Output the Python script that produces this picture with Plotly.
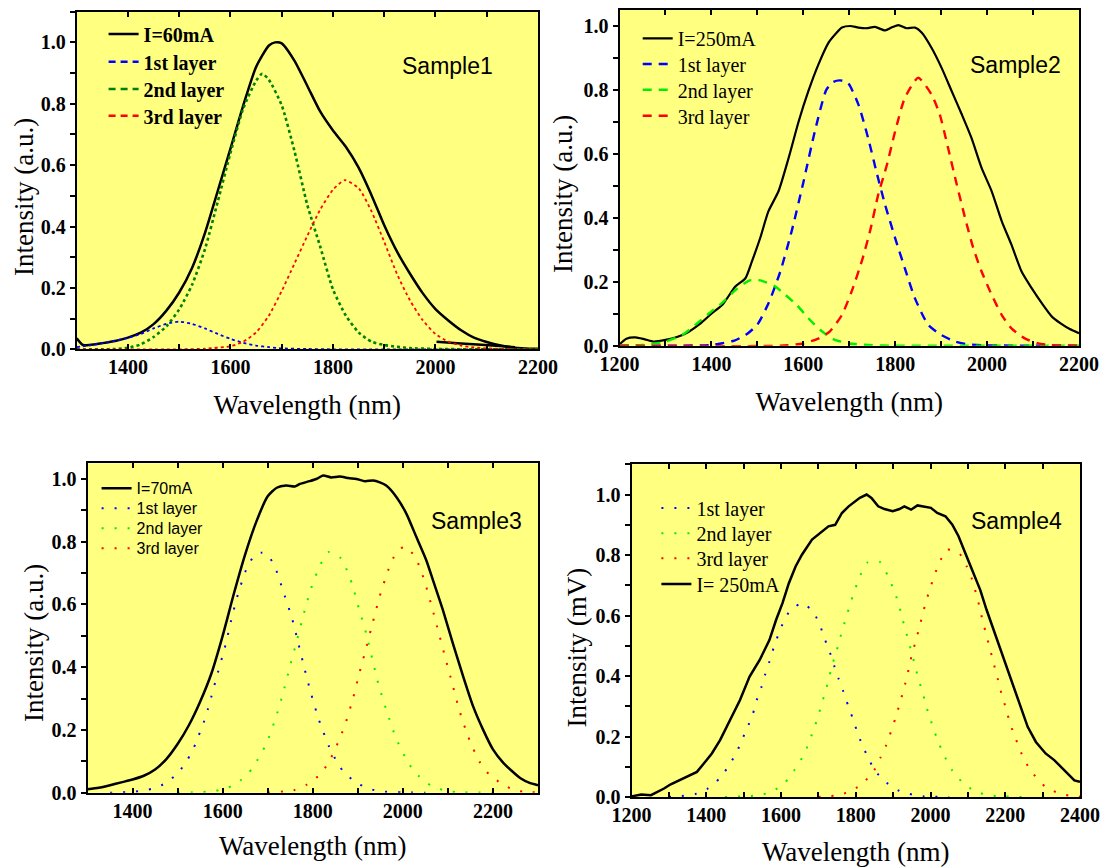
import plotly.graph_objects as go

# ---------------- Sample 1 (I = 60 mA) ----------------
s1_wl = [1300, 1312, 1325, 1350, 1375, 1400, 1425, 1450, 1475, 1500, 1525, 1550, 1575, 1600,
         1625, 1650, 1675, 1687, 1700, 1725, 1750, 1775, 1800, 1825, 1850, 1875, 1900, 1925,
         1950, 1975, 2000, 2025, 2050, 2075, 2100, 2125, 2150, 2175, 2200]
s1_int = [0.036, 0.014, 0.014, 0.020, 0.027, 0.038, 0.054, 0.082, 0.126, 0.185, 0.265, 0.378,
          0.515, 0.654, 0.795, 0.920, 0.990, 1.000, 0.997, 0.940, 0.858, 0.775, 0.713, 0.660,
          0.592, 0.503, 0.404, 0.318, 0.247, 0.183, 0.131, 0.094, 0.062, 0.038, 0.024, 0.013,
          0.006, 0.003, 0.002]
s1_tail_wl = [2002, 2050, 2097, 2155]
s1_tail_int = [0.025, 0.019, 0.014, 0.007]

s1_l1_wl = [1300, 1325, 1350, 1375, 1400, 1425, 1450, 1475, 1500, 1525, 1550, 1575, 1600, 1625,
            1650, 1675, 1700, 1750, 1800, 1900, 2000, 2100, 2200]
s1_l1 = [0.007, 0.013, 0.020, 0.028, 0.037, 0.050, 0.068, 0.083, 0.090, 0.083, 0.068, 0.050,
         0.034, 0.021, 0.012, 0.007, 0.003, 0.001, 0.0, 0.0, 0.0, 0.0, 0.0]

s1_l2_wl = [1300, 1350, 1375, 1400, 1425, 1450, 1475, 1500, 1525, 1550, 1575, 1600, 1625, 1650,
            1662, 1675, 1700, 1725, 1750, 1775, 1800, 1825, 1850, 1875, 1900, 1925, 1950, 2000,
            2100, 2200]
s1_l2 = [0.0, 0.0, 0.001, 0.005, 0.016, 0.040, 0.075, 0.130, 0.210, 0.325, 0.480, 0.640, 0.785,
         0.875, 0.898, 0.878, 0.795, 0.645, 0.470, 0.335, 0.195, 0.110, 0.055, 0.025, 0.014,
         0.008, 0.004, 0.001, 0.0, 0.0]

s1_l3_wl = [1300, 1500, 1550, 1600, 1625, 1650, 1675, 1700, 1725, 1750, 1775, 1800, 1823, 1850,
            1875, 1900, 1925, 1950, 1975, 2000, 2025, 2050, 2075, 2100, 2150, 2200]
s1_l3 = [0.0, 0.0, 0.002, 0.010, 0.025, 0.055, 0.110, 0.190, 0.280, 0.370, 0.455, 0.520, 0.551,
         0.525, 0.450, 0.350, 0.245, 0.160, 0.095, 0.050, 0.025, 0.012, 0.006, 0.003, 0.0, 0.0]

# ---------------- Sample 2 (I = 250 mA) ----------------
s2_wl = [1200, 1215, 1235, 1255, 1275, 1300, 1325, 1350, 1375, 1400, 1425, 1452, 1474, 1488,
         1506, 1524, 1546, 1568, 1590, 1611, 1633, 1655, 1670, 1684, 1702, 1720, 1738, 1756,
         1778, 1792, 1807, 1825, 1843, 1858, 1879, 1901, 1923, 1945, 1966, 1988, 2010, 2032,
         2053, 2075, 2097, 2119, 2141, 2160, 2180, 2200]
s2_int = [0.004, 0.022, 0.026, 0.020, 0.013, 0.018, 0.027, 0.043, 0.068, 0.100, 0.130, 0.185,
          0.211, 0.263, 0.336, 0.420, 0.483, 0.587, 0.702, 0.796, 0.880, 0.948, 0.975, 0.995,
          1.000, 0.995, 0.993, 0.997, 0.986, 0.995, 1.003, 0.993, 0.995, 0.979, 0.932, 0.869,
          0.796, 0.723, 0.650, 0.556, 0.483, 0.389, 0.316, 0.232, 0.180, 0.133, 0.091, 0.070,
          0.052, 0.039]

s2_l1_wl = [1200, 1400, 1425, 1450, 1475, 1500, 1525, 1550, 1575, 1600, 1625, 1650, 1665, 1680,
            1697, 1720, 1741, 1759, 1778, 1800, 1821, 1843, 1872, 1901, 1930, 1959, 2000, 2200]
s2_l1 = [0.0, 0.002, 0.008, 0.016, 0.034, 0.066, 0.135, 0.232, 0.360, 0.510, 0.670, 0.800,
         0.825, 0.830, 0.822, 0.754, 0.650, 0.545, 0.441, 0.336, 0.242, 0.148, 0.065, 0.033,
         0.013, 0.004, 0.001, 0.0]

s2_l2_wl = [1200, 1250, 1300, 1336, 1365, 1394, 1424, 1453, 1481, 1495, 1510, 1539, 1561, 1586,
            1611, 1637, 1666, 1700, 1742, 1800, 2200]
s2_l2 = [0.0, 0.002, 0.013, 0.033, 0.065, 0.100, 0.135, 0.175, 0.203, 0.206, 0.203, 0.185,
         0.159, 0.127, 0.086, 0.049, 0.020, 0.007, 0.002, 0.0, 0.0]

s2_l3_wl = [1200, 1550, 1600, 1634, 1658, 1684, 1705, 1727, 1745, 1763, 1782, 1800, 1821, 1850,
            1879, 1897, 1915, 1934, 1952, 1970, 1988, 2010, 2032, 2053, 2082, 2111, 2140, 2200]
s2_l3 = [0.0, 0.0, 0.007, 0.023, 0.045, 0.096, 0.169, 0.263, 0.357, 0.472, 0.566, 0.671, 0.775,
         0.838, 0.786, 0.723, 0.619, 0.504, 0.400, 0.305, 0.232, 0.159, 0.096, 0.054, 0.023,
         0.007, 0.002, 0.0]

# ---------------- Sample 3 (I = 70 mA) ----------------
s3_wl = [1300, 1325, 1350, 1375, 1400, 1425, 1450, 1475, 1500, 1525, 1550, 1575, 1600, 1625,
         1650, 1675, 1700, 1720, 1741, 1760, 1771, 1793, 1808, 1823, 1841, 1860, 1879, 1897,
         1916, 1934, 1949, 1963, 1986, 2008, 2030, 2052, 2067, 2089, 2111, 2134, 2156, 2178,
         2200, 2223, 2242, 2262, 2280, 2300]
s3_int = [0.011, 0.016, 0.024, 0.033, 0.042, 0.054, 0.074, 0.107, 0.155, 0.215, 0.290, 0.380,
          0.500, 0.635, 0.760, 0.865, 0.945, 0.972, 0.979, 0.976, 0.984, 0.993, 1.000, 1.011,
          1.005, 1.008, 1.003, 1.000, 0.993, 0.995, 0.989, 0.979, 0.942, 0.889, 0.815, 0.741,
          0.677, 0.582, 0.476, 0.370, 0.275, 0.201, 0.138, 0.095, 0.069, 0.045, 0.032, 0.024]

s3_l1_wl = [1350, 1393, 1416, 1444, 1473, 1501, 1521, 1536, 1547, 1558, 1567, 1575, 1590, 1606,
            1619, 1634, 1653, 1671, 1685, 1699, 1716, 1736, 1754, 1768, 1782, 1797, 1814, 1836,
            1850, 1868, 1897, 1924, 1952, 2000, 2050]
s3_l1 = [0.0, 0.002, 0.005, 0.013, 0.030, 0.063, 0.103, 0.143, 0.183, 0.224, 0.265, 0.307,
         0.386, 0.469, 0.550, 0.633, 0.714, 0.757, 0.765, 0.760, 0.720, 0.635, 0.556, 0.476,
         0.394, 0.312, 0.231, 0.148, 0.108, 0.067, 0.032, 0.013, 0.004, 0.001, 0.0]

s3_l2_wl = [1500, 1553, 1582, 1612, 1640, 1664, 1682, 1697, 1717, 1734, 1749, 1764, 1779, 1795,
            1817, 1836, 1862, 1876, 1887, 1903, 1919, 1933, 1947, 1965, 1984, 2012, 2034, 2062,
            2090, 2119, 2200]
s3_l2 = [0.0, 0.002, 0.005, 0.016, 0.040, 0.074, 0.116, 0.156, 0.235, 0.317, 0.400, 0.481,
         0.564, 0.646, 0.727, 0.767, 0.748, 0.709, 0.667, 0.584, 0.506, 0.421, 0.339, 0.257,
         0.177, 0.095, 0.055, 0.023, 0.008, 0.002, 0.0]

s3_l3_wl = [1700, 1758, 1787, 1816, 1836, 1850, 1862, 1873, 1890, 1904, 1919, 1934, 1949, 1968,
            1980, 2003, 2027, 2039, 2049, 2065, 2080, 2095, 2110, 2125, 2144, 2156, 2170, 2191,
            2218, 2247, 2274, 2300]
s3_l3 = [0.0, 0.008, 0.026, 0.058, 0.098, 0.140, 0.180, 0.222, 0.304, 0.384, 0.463, 0.547,
         0.628, 0.711, 0.751, 0.785, 0.753, 0.712, 0.671, 0.589, 0.508, 0.426, 0.346, 0.265,
         0.182, 0.141, 0.099, 0.059, 0.030, 0.008, 0.003, 0.001]

# ---------------- Sample 4 (I = 250 mA) ----------------
s4_wl = [1200, 1226, 1252, 1270, 1287, 1305, 1327, 1349, 1375, 1393, 1415, 1437, 1463, 1490,
         1516, 1543, 1569, 1587, 1604, 1621, 1639, 1656, 1683, 1700, 1727, 1745, 1763, 1781,
         1798, 1811, 1829, 1842, 1860, 1877, 1899, 1917, 1930, 1948, 1965, 1983, 2001, 2018,
         2040, 2058, 2075, 2093, 2111, 2133, 2150, 2172, 2194, 2216, 2238, 2260, 2282, 2308,
         2331, 2357, 2385, 2400]
s4_int = [0.002, 0.008, 0.006, 0.017, 0.028, 0.042, 0.055, 0.066, 0.083, 0.110, 0.144, 0.188,
          0.254, 0.320, 0.398, 0.453, 0.519, 0.586, 0.641, 0.707, 0.762, 0.801, 0.851, 0.867,
          0.895, 0.900, 0.939, 0.961, 0.978, 0.989, 1.000, 0.989, 0.961, 0.952, 0.945, 0.952,
          0.961, 0.950, 0.964, 0.961, 0.956, 0.939, 0.928, 0.901, 0.862, 0.807, 0.751, 0.685,
          0.619, 0.541, 0.464, 0.387, 0.309, 0.232, 0.182, 0.144, 0.122, 0.088, 0.055, 0.050]

s4_l1_wl = [1300, 1340, 1373, 1404, 1437, 1461, 1481, 1496, 1511, 1525, 1535, 1547, 1557, 1569,
            1580, 1592, 1606, 1626, 1659, 1689, 1705, 1718, 1731, 1742, 1754, 1767, 1779, 1791,
            1803, 1816, 1832, 1851, 1882, 1917, 1951, 1983, 2050]
s4_l1 = [0.0, 0.004, 0.011, 0.028, 0.063, 0.105, 0.147, 0.190, 0.232, 0.276, 0.320, 0.361,
         0.403, 0.448, 0.492, 0.534, 0.577, 0.619, 0.641, 0.606, 0.565, 0.519, 0.477, 0.435,
         0.391, 0.348, 0.304, 0.263, 0.219, 0.176, 0.133, 0.088, 0.048, 0.020, 0.008, 0.002,
         0.0]

s4_l2_wl = [1450, 1500, 1542, 1576, 1611, 1637, 1659, 1674, 1686, 1698, 1708, 1718, 1728, 1736,
            1747, 1756, 1766, 1777, 1787, 1799, 1812, 1832, 1849, 1866, 1886, 1900, 1913, 1922,
            1931, 1941, 1950, 1959, 1968, 1979, 1988, 1999, 2010, 2024, 2039, 2058, 2087, 2119,
            2155, 2190, 2250]
s4_l2 = [0.0, 0.002, 0.006, 0.018, 0.048, 0.091, 0.135, 0.177, 0.219, 0.261, 0.304, 0.346,
         0.390, 0.433, 0.475, 0.517, 0.560, 0.604, 0.646, 0.690, 0.733, 0.776, 0.780, 0.776,
         0.731, 0.690, 0.646, 0.604, 0.560, 0.517, 0.475, 0.432, 0.389, 0.346, 0.302, 0.260,
         0.218, 0.173, 0.131, 0.088, 0.046, 0.019, 0.006, 0.002, 0.0]

s4_l3_wl = [1700, 1750, 1782, 1818, 1849, 1866, 1882, 1894, 1906, 1916, 1926, 1935, 1943, 1951,
            1961, 1970, 1979, 1988, 1999, 2010, 2023, 2045, 2078, 2097, 2111, 2121, 2130, 2138,
            2147, 2156, 2165, 2174, 2183, 2192, 2203, 2212, 2225, 2238, 2253, 2276, 2306, 2340,
            2370, 2400]
s4_l3 = [0.0, 0.006, 0.017, 0.044, 0.088, 0.130, 0.173, 0.215, 0.260, 0.302, 0.345, 0.387,
         0.431, 0.475, 0.517, 0.560, 0.604, 0.646, 0.690, 0.731, 0.773, 0.818, 0.804, 0.762,
         0.720, 0.677, 0.634, 0.591, 0.547, 0.505, 0.462, 0.418, 0.376, 0.331, 0.290, 0.246,
         0.203, 0.160, 0.118, 0.075, 0.035, 0.014, 0.005, 0.001]

# ---------------- styling ----------------
SERIF = "Liberation Serif"
SANS = "Liberation Sans"
BG = "#FFFF80"
BLUE, RED = "#0000FF", "#FF0000"
DKGREEN, LTGREEN = "#008000", "#00EE00"
DOTS = "2px,11px"
W, H = 1104, 867

fig = go.Figure()
legend_layout = {}
legend_count = [0]

# legend styles per panel: (font, text-start x px, row centres px, offset from box top)
LEG_STYLE = {
    1: (dict(family=SERIF, size=20, color="black", weight="bold"), 143.6, [35, 62.7, 90, 116.7], 20.5),
    2: (dict(family=SERIF, size=20, color="black"), 677.7, [39.3, 65, 90.7, 116.7], 20.5),
    3: (dict(family=SANS, size=16, color="black"), 136.6, [488.3, 508.3, 528.3, 548.3], 17),
    4: (dict(family=SERIF, size=20, color="black"), 696.4, [509, 534.3, 559.3, 585], 20.5),
}


def new_legend(panel, row):
    legend_count[0] += 1
    n = legend_count[0]
    key = "legend" if n == 1 else "legend%d" % n
    font, xtext, rows, off = LEG_STYLE[panel]
    legend_layout[key] = dict(
        x=(xtext - 40) / W, y=1 - (rows[row] - off) / H, xanchor="left", yanchor="top",
        bgcolor="rgba(0,0,0,0)", borderwidth=0, itemwidth=30, font=font)
    return key


def add(x, y, name, color, width, dash, xa, ya, panel=None, row=None, shape="spline"):
    legend = new_legend(panel, row) if panel else None
    tr = go.Scatter(
        x=x, y=y, name=name, mode="lines", xaxis=xa, yaxis=ya, showlegend=bool(panel),
        line=dict(color=color, width=width, dash=dash, shape=shape, smoothing=0.6))
    if legend:
        tr.legend = legend
    fig.add_trace(tr)


def legend_only(name, color, width, dash, xa, ya, panel, row):
    legend = new_legend(panel, row)
    fig.add_trace(go.Scatter(
        x=[None], y=[None], name=name, mode="lines", xaxis=xa, yaxis=ya, legend=legend,
        line=dict(color=color, width=width, dash=dash)))


# Panel 1
add(s1_wl, s1_int, "I=60mA", "black", 2.5, "solid", "x", "y", 1, 0)
add(s1_tail_wl, s1_tail_int, "I=60mA", "black", 2.5, "solid", "x", "y")
add(s1_l1_wl, s1_l1, "1st layer", BLUE, 1.8, "dot", "x", "y")
add(s1_l2_wl, s1_l2, "2nd layer", DKGREEN, 2.6, "dot", "x", "y")
add(s1_l3_wl, s1_l3, "3rd layer", RED, 1.8, "dot", "x", "y")
legend_only("1st layer", BLUE, 2.5, "7px,5px", "x", "y", 1, 1)
legend_only("2nd layer", DKGREEN, 2.5, "7px,5px", "x", "y", 1, 2)
legend_only("3rd layer", RED, 2.5, "7px,5px", "x", "y", 1, 3)

# Panel 2
add(s2_wl, s2_int, "I=250mA", "black", 2.2, "solid", "x2", "y2", 2, 0)
add(s2_l1_wl, s2_l1, "1st layer", BLUE, 2.4, "9px,7px", "x2", "y2", 2, 1)
add(s2_l2_wl, s2_l2, "2nd layer", LTGREEN, 2.4, "9px,7px", "x2", "y2", 2, 2)
add(s2_l3_wl, s2_l3, "3rd layer", RED, 2.4, "9px,7px", "x2", "y2", 2, 3)

# Panel 3
add(s3_wl, s3_int, "I=70mA", "black", 2.5, "solid", "x3", "y3", 3, 0)
add(s3_l1_wl, s3_l1, "1st layer", BLUE, 2, DOTS, "x3", "y3", 3, 1)
add(s3_l2_wl, s3_l2, "2nd layer", LTGREEN, 2, DOTS, "x3", "y3", 3, 2)
add(s3_l3_wl, s3_l3, "3rd layer", RED, 2, DOTS, "x3", "y3", 3, 3)

# Panel 4
add(s4_l1_wl, s4_l1, "1st layer", BLUE, 2, DOTS, "x4", "y4", 4, 0)
add(s4_l2_wl, s4_l2, "2nd layer", LTGREEN, 2, DOTS, "x4", "y4", 4, 1)
add(s4_l3_wl, s4_l3, "3rd layer", RED, 2, DOTS, "x4", "y4", 4, 2)
add(s4_wl, s4_int, "I= 250mA", "black", 2.5, "solid", "x4", "y4", 4, 3, shape="linear")

panels = [
    # (xdom px, ydom px (top,bottom), xrange, tick0, yrange, ytitle, ytitle centre px,
    #  x tick-label standoff, x title standoff)
    ((76.7, 538.0), (11.7, 349.3), [1300, 2200], 1400, [0, 1.1], "Intensity (a.u.)", (24, 197), -1, 18),
    ((619.5, 1079.0), (10.0, 345.7), [1200, 2200], 1200, [0, 1.05], "Intensity (a.u.)", (563, 194), -1, 18),
    ((87.5, 538.0), (463.3, 792.7), [1300, 2300], 1400, [0, 1.05], "Intensity (a.u.)", (33.5, 643.5), -1, 15),
    ((631.5, 1080.0), (464.3, 797.0), [1200, 2400], 1200, [0, 1.1], "Intensity (mV)", (576, 647.5), -1, 17),
]

tickfont = dict(family=SERIF, size=20, color="black", weight="bold")
titlefont = dict(family=SERIF, size=27, color="black")
layout = {}
for i, (xd, yd, xr, t0, yr, ytitle, yt_pos, xls, xts) in enumerate(panels, start=1):
    sx = "" if i == 1 else str(i)
    xdom = [xd[0] / W, xd[1] / W]
    ydom = [1 - yd[1] / H, 1 - yd[0] / H]
    layout["xaxis" + sx] = dict(
        domain=xdom, range=xr, anchor="y" + sx, showgrid=False, zeroline=False,
        automargin=False, ticklabeloverflow="allow",
        showline=True, linecolor="black", linewidth=2, mirror="ticks",
        ticks="inside", ticklen=5, tickwidth=1.5, tickcolor="black",
        tickmode="linear", tick0=t0, dtick=200,
        minor=dict(ticks="inside", ticklen=5, tickwidth=1.5, tickcolor="black",
                   tickmode="linear", tick0=xr[0], dtick=100),
        tickfont=tickfont, ticklabelstandoff=xls,
        title=dict(text="Wavelength (nm)", font=titlefont, standoff=xts))
    layout["yaxis" + sx] = dict(
        domain=ydom, range=yr, anchor="x" + sx, showgrid=False, zeroline=False,
        automargin=False, ticklabeloverflow="allow",
        showline=True, linecolor="black", linewidth=2, mirror=True,
        ticks="outside", ticklen=5, tickwidth=1.5, tickcolor="black",
        tickmode="linear", tick0=0, dtick=0.2, tickformat=".1f",
        minor=dict(ticks="outside", ticklen=5, tickwidth=1.5, tickcolor="black",
                   tickmode="linear", tick0=0, dtick=0.1),
        tickfont=tickfont, ticklabelstandoff=0)
    # right-hand axis carrying inward ticks
    layout["yaxis" + str(i + 4)] = dict(
        overlaying="y" + sx, anchor="x" + sx, side="right", range=yr, automargin=False,
        showgrid=False, zeroline=False, showline=False, showticklabels=False,
        ticks="inside", ticklen=5, tickwidth=1.5, tickcolor="black",
        tickmode="linear", tick0=0, dtick=0.1)
    # y-axis title (sits a little below the axis centre, as in the original)
    fig.add_annotation(text=ytitle, x=yt_pos[0] / W, y=1 - yt_pos[1] / H, xref="paper",
                       yref="paper", xanchor="center", yanchor="middle", textangle=-90,
                       showarrow=False, font=titlefont)

fig.update_layout(**layout)
fig.update_layout(**legend_layout)

samples = [("Sample1", 400, 66), ("Sample2", 968, 65), ("Sample3", 429, 521), ("Sample4", 969, 521)]
for text, px, py in samples:
    fig.add_annotation(text=text, x=px / W, y=1 - py / H, xref="paper", yref="paper",
                       xanchor="left", yanchor="middle", showarrow=False,
                       font=dict(family=SANS, size=23, color="black"))

fig.update_layout(width=W, height=H, autosize=False, margin=dict(l=0, r=0, t=0, b=0),
                  paper_bgcolor="white", plot_bgcolor=BG)

fig.write_html("out.html")
